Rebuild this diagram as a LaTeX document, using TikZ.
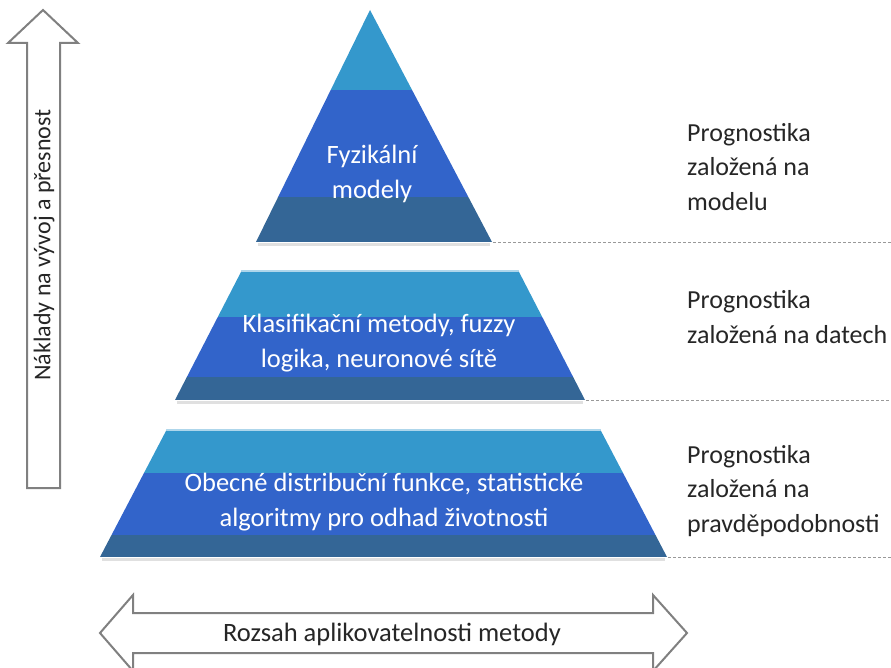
\documentclass[tikz,border=0pt]{standalone}
\usepackage{fontspec}
\setmainfont{Carlito}
\usepackage{tikz}
\usetikzlibrary{calc}
\definecolor{tierlight}{RGB}{52,152,204}
\definecolor{tiermid}{RGB}{50,100,202}
\definecolor{tierdark}{RGB}{52,102,150}
\definecolor{arrowgray}{RGB}{128,128,128}
\tikzset{
  tiertext/.style={text=white, align=center, inner sep=0pt, font=\fontsize{26.5}{35}\selectfont},
  sidetext/.style={text=black!85, align=left, anchor=west, inner sep=0pt, font=\fontsize{26}{34.5}\selectfont},
  blockarrow/.style={draw=arrowgray, line width=2pt, fill=white, line join=miter},
  guide/.style={draw=gray!80, line width=0.8pt, dash pattern=on 3pt off 2pt},
  shade/.style={draw=black!12, line width=2.5pt}
}

\begin{document}
\begin{tikzpicture}[x=1pt,y=-1pt]
  \useasboundingbox (0,0) rectangle (891,668);
  \clip (0,0) rectangle (891,668);

    % arrows
    \draw[blockarrow] (43,10) -- (78,43) -- (60,43) -- (60,488) -- (27,488) -- (27,43) -- (8,43) -- cycle;
    \draw[blockarrow] (100,633) -- (133,595) -- (133,613) -- (653,613) -- (653,595) -- (687,633)
      -- (653,671) -- (653,653) -- (133,653) -- (133,671) -- cycle;

    % soft shadows under the tiers
    \draw[shade] (258,244.5) -- (490,244.5);
    \draw[shade] (177,402.5) -- (583,402.5);
    \draw[shade] (102,559.5) -- (665,559.5);

    % top tier
    \begin{scope}
      \clip (370,10) -- (492,242) -- (256,242) -- cycle;
      \fill[tierlight] (250,0) rectangle (500,90);
      \fill[tiermid] (250,90) rectangle (500,197);
      \fill[tierdark] (250,197) rectangle (500,242);
    \end{scope}

    % middle tier
    \begin{scope}
      \clip (242,270) -- (518,270) -- (585,400) -- (175,400) -- cycle;
      \fill[tierlight] (170,270) rectangle (590,317);
      \fill[tiermid] (170,317) rectangle (590,377);
      \fill[tierdark] (170,377) rectangle (590,400);
      \draw[tierlight!40!white, line width=2pt] (240,271) -- (520,271);
    \end{scope}

    % bottom tier
    \begin{scope}
      \clip (167,429) -- (600,429) -- (667,557) -- (100,557) -- cycle;
      \fill[tierlight] (95,429) rectangle (670,473);
      \fill[tiermid] (95,473) rectangle (670,535);
      \fill[tierdark] (95,535) rectangle (670,557);
      \draw[tierlight!40!white, line width=2pt] (165,430) -- (602,430);
    \end{scope}

    \coordinate (edge1) at (493,242);
    \coordinate (edge2) at (586,400);
    \coordinate (edge3) at (668,557);
    \draw[guide] (edge1) -- (891,242);
    \draw[guide] (edge2) -- (891,400);
    \draw[guide] (edge3) -- (891,557);

    \node[tiertext] (fyz) at (372,174) {Fyzikální\\modely};
    \node[tiertext] (klas) at (379,343) {Klasifikační metody, fuzzy\\logika, neuronové sítě};
    \node[tiertext] (obec) at (384,502) {Obecné distribuční funkce, statistické\\algoritmy pro odhad životnosti};

    \node[sidetext] (model) at (687,167) {Prognostika\\založená na\\modelu};
    \node[sidetext] (data) at (687,317) {Prognostika\\založená na datech};
    \node[sidetext] (prav) at (687,491) {Prognostika\\založená na\\pravděpodobnosti};

    \node[rotate=90, text=black!85, inner sep=0pt, font=\fontsize{24}{30}\selectfont] (cost) at (44,245) {Náklady na vývoj a přesnost};
    \node[text=black!85, inner sep=0pt, font=\fontsize{26.5}{30}\selectfont] (range) at (392,634) {Rozsah aplikovatelnosti metody};

\end{tikzpicture}
\end{document}
